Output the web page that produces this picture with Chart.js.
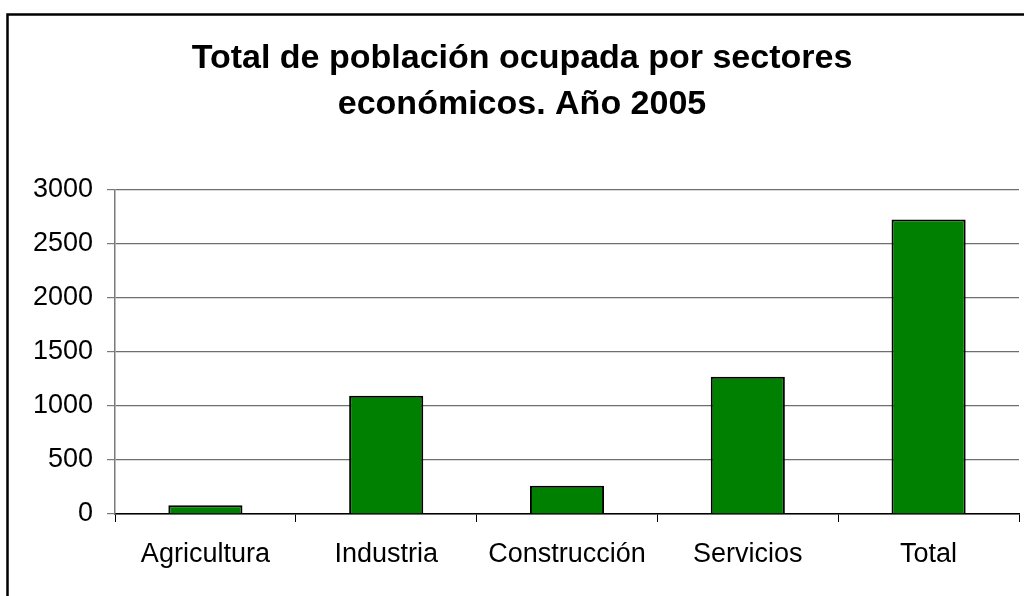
<!DOCTYPE html>
<html>
<head>
<meta charset="utf-8">
<script src="https://cdn.jsdelivr.net/npm/chart.js@4/dist/chart.umd.min.js"></script>
<style>
  html, body { margin: 0; padding: 0; background: #fff; }
  #wrap { width: 1024px; height: 596px; position: relative; }
</style>
</head>
<body>
<div id="wrap"><canvas id="chart" width="1024" height="596"></canvas></div>
<script>
const sectores = ["Agricultura", "Industria", "Construcción", "Servicios", "Total"];
const ocupados = [80, 1095, 262, 1270, 2725];
const yTicks = [0, 500, 1000, 1500, 2000, 2500, 3000];
const titulo = ["Total de población ocupada por sectores", "económicos. Año 2005"];

const fontFam = "'Liberation Sans', Arial, sans-serif";

// marco exterior del gráfico (recortado a derecha y abajo)
const framePlugin = {
  id: "frame",
  beforeDraw(chart) {
    const ctx = chart.ctx;
    ctx.save();
    ctx.fillStyle = "#fff";
    ctx.fillRect(0, 0, chart.width, chart.height);
    ctx.strokeStyle = "#000";
    ctx.lineWidth = 2.5;
    ctx.strokeRect(7.5, 14.5, 1060, 640);
    ctx.restore();
  }
};

const ctx = document.getElementById("chart").getContext("2d");
new Chart(ctx, {
  type: "bar",
  data: {
    labels: sectores,
    datasets: [{
      data: ocupados,
      backgroundColor: "#008000",
      borderColor: "#000",
      borderWidth: 2,
      categoryPercentage: 1,
      barPercentage: 0.41
    }]
  },
  options: {
    responsive: false,
    animation: false,
    layout: { padding: { left: 25, right: 5, top: 14, bottom: 0 } },
    plugins: {
      legend: { display: false },
      tooltip: { enabled: false },
      title: {
        display: true,
        text: titulo,
        color: "#000",
        font: { family: fontFam, size: 34, weight: "bold", lineHeight: 1.35 },
        padding: { top: 22, bottom: 62 }
      }
    },
    scales: {
      x: {
        grid: { drawOnChartArea: false, tickLength: 8, tickColor: "#000", offset: true },
        border: { color: "#000", width: 1.5 },
        ticks: { color: "#000", padding: 16, font: { family: fontFam, size: 27 }, maxRotation: 0 },
        afterFit(scale) { scale.height = 82; }
      },
      y: {
        min: 0,
        max: 3000,
        afterBuildTicks(scale) { scale.ticks = yTicks.map(v => ({ value: v })); },
        grid: { color: "#6e6e6e", lineWidth: 1.2, tickLength: 8, tickColor: "#7a7a7a" },
        border: { color: "#7a7a7a", width: 1.5 },
        ticks: {
          color: "#000", padding: 14, font: { family: fontFam, size: 27 },
          callback: (v) => String(v)
        },
        afterFit(scale) { scale.width = 90; }
      }
    }
  },
  plugins: [framePlugin]
});
</script>
</body>
</html>
